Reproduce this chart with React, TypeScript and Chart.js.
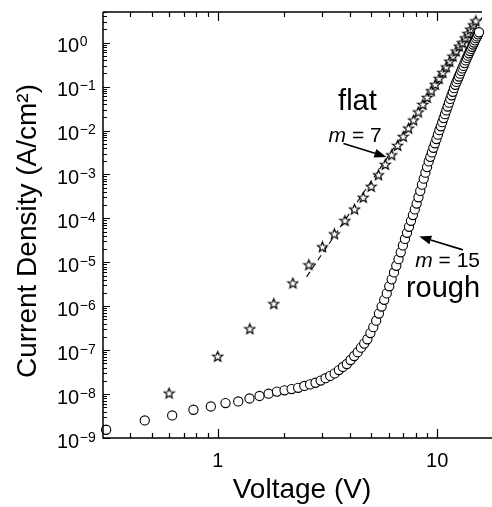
import React, { useEffect, useRef } from "react";
import { Chart, registerables } from "chart.js";

Chart.register(...registerables);

// ---- data ----
const roughVoltage = [
  0.31, 0.465, 0.62, 0.775, 0.93, 1.085, 1.24, 1.395, 1.55, 1.705, 1.86, 2.015, 2.17, 2.325, 2.48,
  2.635, 2.79, 2.945, 3.1, 3.255, 3.41, 3.565, 3.72, 3.875, 4.03, 4.185, 4.34, 4.495, 4.65, 4.805,
  4.96, 5.115, 5.27, 5.425, 5.58, 5.735, 5.89, 6.045, 6.2, 6.355, 6.51, 6.665, 6.82, 6.975, 7.13,
  7.285, 7.44, 7.595, 7.75, 7.905, 8.06, 8.215, 8.37, 8.525, 8.68, 8.835, 8.99, 9.145, 9.3, 9.455,
  9.61, 9.765, 9.92, 10.075, 10.23, 10.385, 10.54, 10.695, 10.85, 11.005, 11.16, 11.315, 11.47,
  11.625, 11.78, 11.935, 12.09, 12.245, 12.4, 12.555, 12.71, 12.865, 13.02, 13.175, 13.33, 13.485,
  13.64, 13.795, 13.95, 14.105, 14.26, 14.415, 14.57, 14.725, 14.88, 15.035, 15.19, 15.345, 15.5,
];
const roughCurrent = [
  1.54e-9, 2.51e-9, 3.26e-9, 4.4e-9, 5.22e-9, 6.24e-9, 6.79e-9, 7.94e-9, 9.05e-9, 1.02e-8, 1.14e-8,
  1.22e-8, 1.3e-8, 1.39e-8, 1.53e-8, 1.66e-8, 1.81e-8, 2.03e-8, 2.3e-8, 2.59e-8, 2.96e-8, 3.52e-8,
  4.14e-8, 4.84e-8, 5.97e-8, 7.36e-8, 8.98e-8, 1.14e-7, 1.41e-7, 1.77e-7, 2.45e-7, 3.34e-7, 4.68e-7,
  6.82e-7, 9.84e-7, 1.4e-6, 1.96e-6, 2.84e-6, 4.09e-6, 5.87e-6, 8.35e-6, 1.18e-5, 1.69e-5, 2.42e-5,
  3.4e-5, 4.7e-5, 6.44e-5, 8.82e-5, 1.19e-4, 1.6e-4, 2.18e-4, 3.03e-4, 4.22e-4, 5.87e-4, 8.0e-4,
  1.1e-3, 1.47e-3, 1.98e-3, 2.52e-3, 3.18e-3, 4.06e-3, 5.12e-3, 6.41e-3, 8.07e-3, 1.02e-2, 1.25e-2,
  1.55e-2, 1.92e-2, 2.36e-2, 2.87e-2, 3.53e-2, 4.31e-2, 5.24e-2, 6.36e-2, 7.63e-2, 9.22e-2, 0.11,
  0.128, 0.148, 0.17, 0.197, 0.228, 0.26, 0.296, 0.343, 0.394, 0.449, 0.506, 0.574, 0.647, 0.723,
  0.807, 0.91, 1.01, 1.13, 1.27, 1.39, 1.55, 1.73,
];
const flatVoltage = [
  0.6, 1.0, 1.4, 1.8, 2.2, 2.6, 3.0, 3.4, 3.8, 4.2, 4.6, 5.0, 5.4, 5.8, 6.2, 6.6, 7.0, 7.4, 7.8,
  8.2, 8.6, 9.0, 9.4, 9.8, 10.2, 10.6, 11.0, 11.4, 11.8, 12.2, 12.6, 13.0, 13.4, 13.8, 14.2, 14.6, 15.0,
];
const flatCurrent = [
  1.05e-8, 7.2e-8, 3.06e-7, 1.14e-6, 3.36e-6, 8.75e-6, 2.25e-5, 4.44e-5, 8.9e-5, 1.62e-4, 3.0e-4,
  5.35e-4, 9.77e-4, 1.69e-3, 2.79e-3, 4.58e-3, 7.3e-3, 1.13e-2, 1.73e-2, 2.64e-2, 3.93e-2, 5.66e-2,
  8.05e-2, 0.112, 0.153, 0.209, 0.28, 0.376, 0.493, 0.644, 0.832, 1.0, 1.28, 1.61, 2.02, 2.53, 3.12,
];
const fitFlatVoltage = [2.54, 16.9];
const fitFlatCurrent = [4.67e-6, 5.55];

const xMajorTicks = [1, 10];
const xTickLabels = ["1", "10"];
const xMinorTicks = [0.4, 0.5, 0.6, 0.7, 0.8, 0.9, 2, 3, 4, 5, 6, 7, 8, 9];
const yExponents = [-9, -8, -7, -6, -5, -4, -3, -2, -1, 0];
const yExponentLabels = ["\u22129", "\u22128", "\u22127", "\u22126", "\u22125", "\u22124", "\u22123", "\u22122", "\u22121", "0"];

const X_MIN = 0.303;
const X_MAX = 16.0;
const Y_MIN = 1e-9;
const Y_MAX = 5;

const FONT = "'Liberation Sans', Arial, Helvetica, sans-serif";

type Note = { text: string; italicPrefix?: string; x: number; y: number; size: number; align: CanvasTextAlign };
const notes: Note[] = [
  { text: "flat", x: 4.33, y: 2.9e-2, size: 29, align: "center" },
  { text: " = 7", italicPrefix: "m", x: 3.2, y: 5.6e-3, size: 21, align: "left" },
  { text: " = 15", italicPrefix: "m", x: 7.94, y: 8.0e-6, size: 21, align: "left" },
  { text: "rough", x: 7.2, y: 1.64e-6, size: 29, align: "left" },
];
const arrows = [
  { from: [3.74, 5.09e-3], to: [5.87, 2.51e-3] },
  { from: [13.1, 1.92e-5], to: [8.28, 3.89e-5] },
];

function makeStar(): HTMLCanvasElement {
  const c = document.createElement("canvas");
  c.width = 13;
  c.height = 13;
  const g = c.getContext("2d")!;
  const cx = 6.5, cy = 6.9, R = 5.3, r = 2.3;
  g.beginPath();
  for (let i = 0; i < 10; i++) {
    const rad = i % 2 === 0 ? R : r;
    const a = -Math.PI / 2 + (i * Math.PI) / 5;
    const px = cx + rad * Math.cos(a);
    const py = cy + rad * Math.sin(a);
    if (i === 0) g.moveTo(px, py);
    else g.lineTo(px, py);
  }
  g.closePath();
  g.fillStyle = "#fff";
  g.fill();
  g.strokeStyle = "#000";
  g.lineJoin = "miter";
  g.lineWidth = 1.2;
  g.stroke();
  return c;
}

const axesPlugin = {
  id: "customAxes",
  afterDatasetsDraw(chart: any) {
    const { ctx, chartArea: ca, scales } = chart;
    const xs = scales.x;
    const ys = scales.y;
    ctx.save();
    ctx.strokeStyle = "#000";
    ctx.fillStyle = "#000";
    ctx.lineWidth = 1.5;
    ctx.beginPath();
    ctx.moveTo(ca.left, ca.top);
    ctx.lineTo(ca.left, ca.bottom);
    ctx.lineTo(chart.width, ca.bottom);
    ctx.moveTo(ca.left, ca.top);
    ctx.lineTo(ca.right, ca.top);
    ctx.stroke();

    ctx.lineWidth = 1.2;
    ctx.beginPath();
    const xt = (v: number, len: number) => {
      const px = Math.round(xs.getPixelForValue(v)) + 0.5;
      ctx.moveTo(px, ca.bottom);
      ctx.lineTo(px, ca.bottom - len);
      ctx.moveTo(px, ca.top);
      ctx.lineTo(px, ca.top + len);
    };
    xMajorTicks.forEach((v) => xt(v, 9));
    xMinorTicks.forEach((v) => xt(v, 5));
    yExponents.forEach((e) => {
      const py = Math.round(ys.getPixelForValue(Math.pow(10, e))) + 0.5;
      ctx.moveTo(ca.left, py);
      ctx.lineTo(ca.left + 7, py);
      for (let k = 2; k <= 9; k++) {
        const v = k * Math.pow(10, e);
        if (v > Y_MAX) break;
        const pm = Math.round(ys.getPixelForValue(v)) + 0.5;
        ctx.moveTo(ca.left, pm);
        ctx.lineTo(ca.left + 4, pm);
      }
    });
    ctx.stroke();

    yExponents.forEach((e, i) => {
      const py = ys.getPixelForValue(Math.pow(10, e));
      ctx.textAlign = "left";
      ctx.textBaseline = "alphabetic";
      ctx.font = `20px ${FONT}`;
      const baseX = 57;
      ctx.fillText("10", baseX, py + 9.5);
      const w = ctx.measureText("10").width;
      ctx.font = `14px ${FONT}`;
      ctx.fillText(yExponentLabels[i], baseX + w + 0.5, py + 3.5);
    });

    ctx.font = `20px ${FONT}`;
    ctx.textAlign = "center";
    xMajorTicks.forEach((v, i) => {
      ctx.fillText(xTickLabels[i], xs.getPixelForValue(v), ca.bottom + 29);
    });

    ctx.font = `28px ${FONT}`;
    ctx.textAlign = "center";
    ctx.fillText("Voltage (V)", 302, 498);
    ctx.save();
    ctx.translate(36, 231);
    ctx.rotate(-Math.PI / 2);
    ctx.fillText("Current Density (A/cm\u00B2)", 0, 0);
    ctx.restore();

    notes.forEach((n) => {
      const px = xs.getPixelForValue(n.x);
      const py = ys.getPixelForValue(n.y);
      ctx.textAlign = "left";
      if (n.italicPrefix) {
        ctx.font = `italic ${n.size}px ${FONT}`;
        const wi = ctx.measureText(n.italicPrefix).width;
        ctx.fillText(n.italicPrefix, px, py);
        ctx.font = `${n.size}px ${FONT}`;
        ctx.fillText(n.text, px + wi, py);
      } else {
        ctx.font = `${n.size}px ${FONT}`;
        ctx.textAlign = n.align;
        ctx.fillText(n.text, px, py);
      }
    });

    arrows.forEach((a) => {
      const x0 = xs.getPixelForValue(a.from[0]);
      const y0 = ys.getPixelForValue(a.from[1]);
      const x1 = xs.getPixelForValue(a.to[0]);
      const y1 = ys.getPixelForValue(a.to[1]);
      const ang = Math.atan2(y1 - y0, x1 - x0);
      const hl = 12, hw = 4.5;
      const bx = x1 - hl * Math.cos(ang);
      const by = y1 - hl * Math.sin(ang);
      ctx.lineWidth = 1.6;
      ctx.beginPath();
      ctx.moveTo(x0, y0);
      ctx.lineTo(bx, by);
      ctx.stroke();
      ctx.beginPath();
      ctx.moveTo(x1, y1);
      ctx.lineTo(bx + hw * Math.sin(ang), by - hw * Math.cos(ang));
      ctx.lineTo(bx - hw * Math.sin(ang), by + hw * Math.cos(ang));
      ctx.closePath();
      ctx.fill();
    });
    ctx.restore();
  },
};

export default function App() {
  const canvasRef = useRef<HTMLCanvasElement | null>(null);

  useEffect(() => {
    if (!canvasRef.current) return;
    const star = makeStar();
    const rough = roughVoltage.map((v, i) => ({ x: v, y: roughCurrent[i] }));
    const flat = flatVoltage.map((v, i) => ({ x: v, y: flatCurrent[i] }));
    const fit = fitFlatVoltage.map((v, i) => ({ x: v, y: fitFlatCurrent[i] }));

    const chart = new Chart(canvasRef.current, {
      type: "scatter",
      data: {
        datasets: [
          {
            label: "rough",
            data: rough,
            showLine: false,
            pointStyle: "circle",
            pointRadius: 4.6,
            pointBorderWidth: 1.1,
            pointBorderColor: "#000",
            pointBackgroundColor: "#fff",
            clip: false,
            order: 0,
          } as any,
          {
            label: "flat",
            data: flat,
            showLine: false,
            pointStyle: star,
            pointRadius: 5,
            clip: false,
            order: 1,
          } as any,
          {
            label: "fit flat",
            data: fit,
            showLine: true,
            pointRadius: 0,
            borderColor: "#000",
            borderWidth: 1.1,
            borderDash: [6, 4],
            order: 2,
          } as any,
        ],
      },
      options: {
        animation: false,
        responsive: true,
        maintainAspectRatio: false,
        devicePixelRatio: 1,
        events: [],
        layout: { padding: { left: 103, top: 12, right: 10, bottom: 69 } },
        plugins: { legend: { display: false }, tooltip: { enabled: false }, title: { display: false } },
        scales: {
          x: { type: "logarithmic", min: X_MIN, max: X_MAX, display: false },
          y: { type: "logarithmic", min: Y_MIN, max: Y_MAX, display: false },
        },
      },
      plugins: [axesPlugin],
    });
    return () => chart.destroy();
  }, []);

  return (
    <div style={{ position: "fixed", left: 0, top: 0, width: 492, height: 507, background: "#fff" }}>
      <canvas ref={canvasRef} />
    </div>
  );
}
